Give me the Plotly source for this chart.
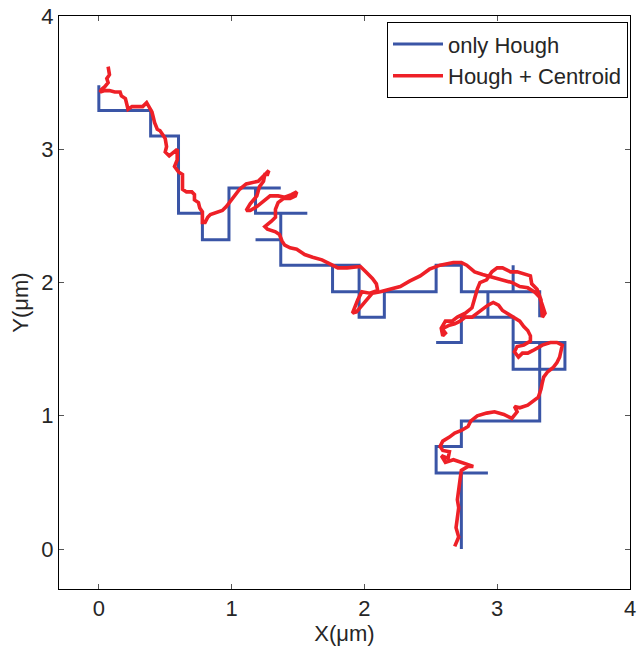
import plotly.graph_objects as go

# "only Hough" trajectory (quantized steps), in micrometres
hough_x = [2.73, 2.73, 2.93, 2.54, 2.54, 2.73, 2.73, 3.32, 3.32, 3.51, 3.51, 3.12, 3.12, 3.32, 3.12,
           3.12, 2.73, 2.73, 2.54, 2.73, 2.73, 2.93, 2.93, 3.32, 3.32, 3.32, 3.12, 3.12, 3.12, 2.73,
           2.73, 2.54, 2.54, 2.15, 2.15, 1.96, 1.96, 1.76, 1.76, 1.96, 1.76, 1.76, 1.37, 1.37, 1.18,
           1.37, 1.37, 1.57, 1.18, 1.18, 1.37, 0.98, 0.98, 0.78, 0.78, 0.60, 0.60, 0.39, 0.39, 0.00, 0.00]
hough_y = [0.00, 0.57, 0.57, 0.57, 0.77, 0.77, 0.96, 0.96, 1.55, 1.55, 1.35, 1.35, 1.55, 1.55, 1.55,
           1.74, 1.74, 1.55, 1.55, 1.55, 1.74, 1.74, 1.93, 1.93, 1.74, 1.93, 1.93, 2.13, 1.93, 1.93,
           2.13, 2.13, 1.93, 1.93, 1.74, 1.74, 2.13, 2.13, 1.93, 1.93, 1.93, 2.13, 2.13, 2.32, 2.32,
           2.32, 2.52, 2.52, 2.52, 2.71, 2.71, 2.71, 2.32, 2.32, 2.52, 2.52, 3.10, 3.10, 3.29, 3.29, 3.48]

# "Hough + Centroid" trajectory, in micrometres
centroid_x = [0.07, 0.08, 0.06, 0.07, 0.045, 0.02, 0.01, 0.045, 0.08, 0.12, 0.16, 0.17, 0.20, 0.21, 0.22,
              0.25, 0.29, 0.33, 0.36, 0.38, 0.40, 0.41, 0.42, 0.44, 0.46, 0.48, 0.50, 0.51, 0.50, 0.53,
              0.57, 0.59, 0.59, 0.57, 0.60, 0.63, 0.63, 0.63, 0.66, 0.70, 0.72, 0.72, 0.75, 0.76, 0.78,
              0.78, 0.78, 0.80, 0.82, 0.84, 0.89, 0.93, 0.96, 0.99, 1.02, 1.06, 1.11, 1.16, 1.20, 1.24,
              1.28, 1.27, 1.25, 1.24, 1.21, 1.19, 1.14, 1.11, 1.14, 1.19, 1.24, 1.29, 1.35, 1.40, 1.45,
              1.49, 1.48, 1.44, 1.39, 1.35, 1.33, 1.33, 1.30, 1.25, 1.27, 1.33, 1.36, 1.38, 1.40, 1.44,
              1.49, 1.55, 1.61, 1.68, 1.74, 1.80, 1.87, 1.93, 1.97, 2.01, 2.06, 2.09, 2.10, 2.04, 1.98,
              1.95, 1.93, 1.91, 1.94, 1.98, 2.02, 2.06, 2.12, 2.19, 2.27, 2.34, 2.42, 2.49, 2.57, 2.67,
              2.73, 2.77, 2.83, 2.89, 2.96, 3.04, 3.11, 3.17, 3.23, 3.28, 3.32, 3.34, 3.36, 3.34, 3.33,
              3.30, 3.26, 3.25, 3.21, 3.15, 3.10, 3.04, 3.00, 2.96, 2.92, 2.87, 2.85, 2.83, 2.81, 2.76,
              2.70, 2.66, 2.61, 2.58, 2.61, 2.59, 2.58, 2.64, 2.68, 2.72, 2.76, 2.81, 2.85, 2.89, 2.93,
              2.97, 3.01, 3.04, 3.09, 3.13, 3.17, 3.20, 3.23, 3.25, 3.25, 3.20, 3.15, 3.13, 3.16, 3.19,
              3.23, 3.27, 3.31, 3.34, 3.40, 3.45, 3.49, 3.48, 3.47, 3.45, 3.42, 3.38, 3.35, 3.34, 3.33,
              3.31, 3.27, 3.23, 3.17, 3.13, 3.15, 3.11, 3.05, 2.98, 2.92, 2.85, 2.80, 2.78, 2.73, 2.68,
              2.64, 2.59, 2.57, 2.59, 2.64, 2.63, 2.58, 2.61, 2.67, 2.73, 2.78, 2.82, 2.78, 2.73, 2.72,
              2.71, 2.70, 2.71, 2.70, 2.69, 2.71, 2.68]
centroid_y = [3.62, 3.56, 3.53, 3.50, 3.47, 3.45, 3.43, 3.44, 3.44, 3.43, 3.43, 3.40, 3.38, 3.34, 3.30,
              3.32, 3.32, 3.32, 3.35, 3.32, 3.28, 3.24, 3.20, 3.15, 3.14, 3.11, 3.08, 3.02, 2.98, 2.95,
              2.98, 3.00, 2.92, 2.87, 2.83, 2.81, 2.76, 2.70, 2.68, 2.68, 2.66, 2.62, 2.60, 2.56, 2.53,
              2.49, 2.45, 2.45, 2.49, 2.51, 2.53, 2.54, 2.57, 2.61, 2.64, 2.70, 2.74, 2.75, 2.76, 2.80,
              2.84, 2.81, 2.81, 2.76, 2.72, 2.65, 2.59, 2.54, 2.54, 2.57, 2.61, 2.65, 2.65, 2.64, 2.66,
              2.68, 2.65, 2.63, 2.63, 2.60, 2.55, 2.49, 2.46, 2.42, 2.40, 2.38, 2.36, 2.31, 2.28, 2.26,
              2.25, 2.21, 2.19, 2.17, 2.14, 2.11, 2.11, 2.12, 2.12, 2.08, 2.03, 1.99, 1.94, 1.92, 1.93,
              1.87, 1.82, 1.77, 1.78, 1.83, 1.88, 1.92, 1.93, 1.95, 1.97, 2.01, 2.05, 2.10, 2.13, 2.15,
              2.15, 2.13, 2.08, 2.06, 2.04, 2.02, 2.00, 1.97, 1.96, 1.93, 1.89, 1.83, 1.77, 1.74, 1.87,
              1.95, 1.99, 2.05, 2.06, 2.08, 2.08, 2.11, 2.11, 2.08, 2.02, 2.00, 1.95, 1.89, 1.81, 1.77,
              1.74, 1.71, 1.71, 1.66, 1.62, 1.60, 1.65, 1.68, 1.69, 1.71, 1.74, 1.74, 1.77, 1.80, 1.83,
              1.85, 1.83, 1.79, 1.76, 1.74, 1.71, 1.67, 1.64, 1.60, 1.56, 1.53, 1.52, 1.48, 1.44, 1.47,
              1.47, 1.49, 1.51, 1.53, 1.55, 1.55, 1.53, 1.49, 1.44, 1.40, 1.36, 1.33, 1.29, 1.25, 1.20,
              1.14, 1.11, 1.08, 1.06, 1.07, 1.03, 0.98, 1.01, 1.03, 1.02, 1.00, 0.96, 0.92, 0.89, 0.87,
              0.84, 0.81, 0.77, 0.74, 0.73, 0.68, 0.70, 0.65, 0.67, 0.65, 0.64, 0.62, 0.62, 0.59, 0.52,
              0.44, 0.37, 0.31, 0.23, 0.16, 0.09, 0.02]

tick_vals = [0, 1, 2, 3, 4]
tick_text = ["0", "1", "2", "3", "4"]

FONT = "Arial, Liberation Sans, Helvetica, sans-serif"
TXT = "#262626"

fig = go.Figure()
fig.add_trace(go.Scatter(x=hough_x, y=hough_y, mode="lines", name="only Hough",
                         line=dict(color="#3A55A6", width=3)))
fig.add_trace(go.Scatter(x=centroid_x, y=centroid_y, mode="lines", name="Hough + Centroid",
                         line=dict(color="#EE2027", width=3.6)))

axis_common = dict(
    showgrid=False, zeroline=False, showline=True, linecolor="black", linewidth=1,
    mirror="allticks", ticks="inside", ticklen=5, tickcolor="#555555", tickwidth=1,
    tickvals=tick_vals, ticktext=tick_text, automargin=False,
    tickfont=dict(family=FONT, size=22, color=TXT),
)

fig.update_layout(
    width=640, height=646,
    margin=dict(l=59, r=10, t=16, b=57),
    paper_bgcolor="white", plot_bgcolor="white",
    xaxis=dict(range=[-0.3, 4], title=dict(text="X(μm)", font=dict(family=FONT, size=22, color=TXT), standoff=2),
               **axis_common),
    yaxis=dict(range=[-0.3, 4], title=dict(text="Y(μm)", font=dict(family=FONT, size=22, color=TXT), standoff=6),
               **axis_common),
    legend=dict(x=0.9965, y=0.989, xanchor="right", yanchor="top",
                bgcolor="white", bordercolor="black", borderwidth=1,
                font=dict(family=FONT, size=22, color=TXT),
                tracegroupgap=0, itemwidth=50),
    showlegend=True,
)

fig.write_html("out.html")
